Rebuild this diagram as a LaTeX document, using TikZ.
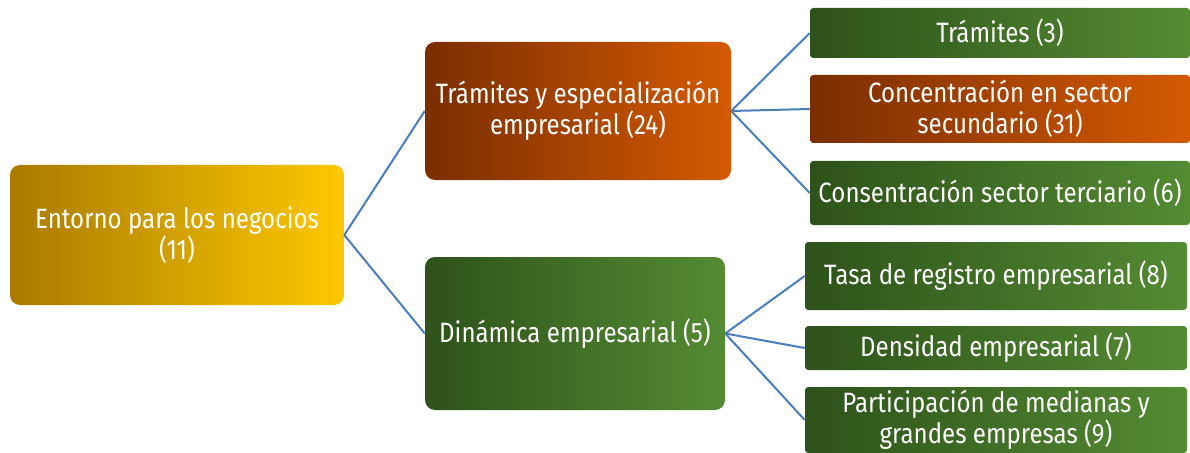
\documentclass[tikz,border=0pt]{standalone}
\usepackage{fontspec}
\setmainfont{Fira Sans}[FakeStretch=0.86]
\definecolor{goldL}{HTML}{A97A00}
\definecolor{goldR}{HTML}{FDC800}
\definecolor{orL}{HTML}{7A2E00}
\definecolor{orR}{HTML}{D45A02}
\definecolor{grL}{HTML}{2E521A}
\definecolor{grR}{HTML}{548B33}
\definecolor{link}{HTML}{4A7EBB}
\tikzset{
  box/.style={text=white, align=center, inner sep=2pt, font=\fontsize{21}{23.5}\selectfont},
  big/.style={box, rounded corners=7.5pt},
  small/.style={box, rounded corners=2.5pt},
  gold/.style={left color=goldL, right color=goldR},
  orange/.style={left color=orL, right color=orR},
  green/.style={left color=grL, right color=grR},
  link/.style={draw=link, line width=1.5pt}
}
\begin{document}
\begin{tikzpicture}[x=0.75pt,y=-0.75pt]
\useasboundingbox (0,0) rectangle (1190,453);
\node[big,gold,minimum width=250.5pt,minimum height=105pt] (root) at (177,235) {Entorno para los negocios\\(11)};
\node[big,orange,minimum width=229.5pt,minimum height=103.5pt] (a) at (578,111) {Trámites y especialización\\empresarial (24)};
\node[big,green,minimum width=225pt,minimum height=114.75pt] (b) at (575,333.5) {Dinámica empresarial (5)};
\node[small,green,minimum width=285pt,minimum height=37.5pt] (a1) at (1000,33) {Trámites (3)};
\node[small,orange,minimum width=285pt,minimum height=51pt] (a2) at (1000,109) {Concentración en sector\\secundario (31)};
\node[small,green,minimum width=285pt,minimum height=48pt] (a3) at (1000,193) {Consentración sector terciario (6)};
\node[small,green,minimum width=286.5pt,minimum height=51pt] (b1) at (996,276) {Tasa de registro empresarial (8)};
\node[small,green,minimum width=286.5pt,minimum height=33pt] (b2) at (996,348) {Densidad empresarial (7)};
\node[small,green,minimum width=286.5pt,minimum height=49.5pt] (b3) at (996,420) {Participación de medianas y\\grandes empresas (9)};
\draw[link] (root.east) -- (a.west);
\draw[link] (root.east) -- (b.west);
\draw[link] (a.east) -- (a1.west);
\draw[link] (a.east) -- (a2.west);
\draw[link] (a.east) -- (a3.west);
\draw[link] (b.east) -- (b1.west);
\draw[link] (b.east) -- (b2.west);
\draw[link] (b.east) -- (b3.west);
\end{tikzpicture}
\end{document}
